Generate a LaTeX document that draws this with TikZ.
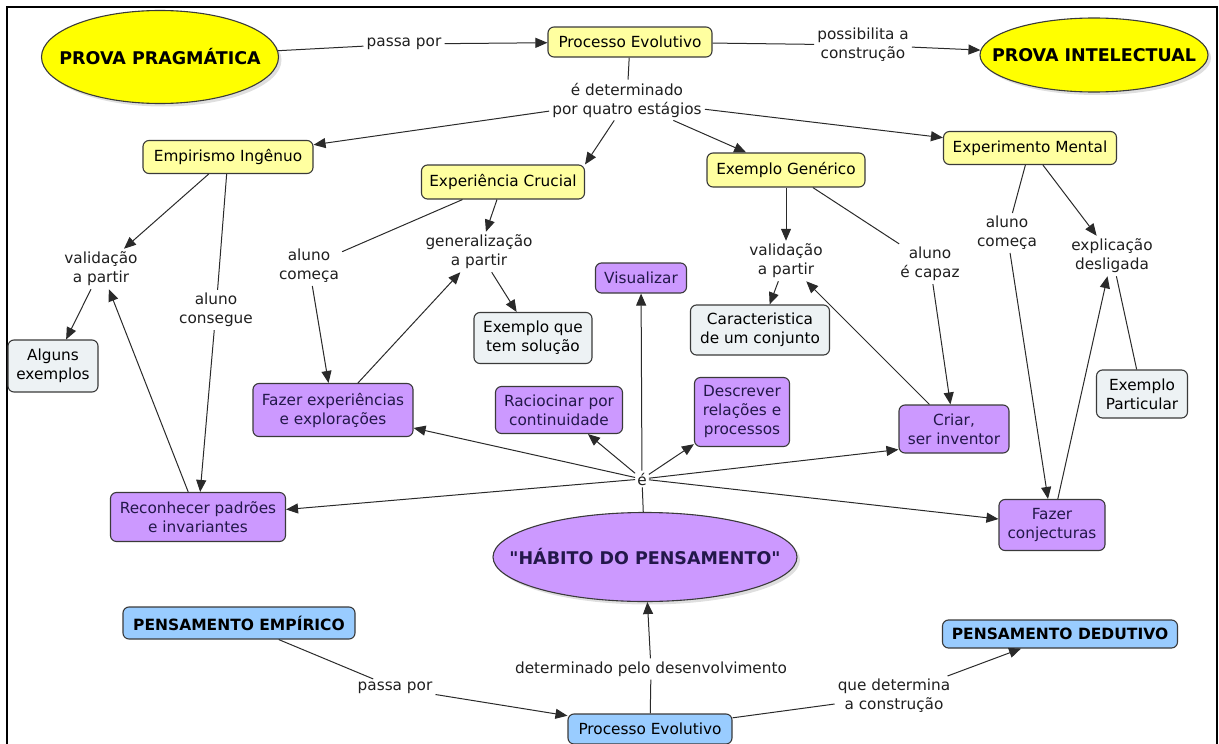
\documentclass[tikz,border=0pt]{standalone}
\usepackage{fontspec}
\setmainfont{DejaVu Sans}[Ligatures=TeXOff]
\usetikzlibrary{arrows.meta,shapes.geometric,shadows}
\definecolor{yel}{HTML}{FFFF00}
\definecolor{pyel}{HTML}{FFFFA0}
\definecolor{purp}{HTML}{CC99FF}
\definecolor{lblue}{HTML}{99CCFF}
\definecolor{grayb}{HTML}{EDF2F4}
\definecolor{edgec}{HTML}{3A3A3A}
\definecolor{ptext}{HTML}{23184A}
\definecolor{linec}{HTML}{2A2A2A}
\begin{document}
\begin{tikzpicture}[x=1pt,y=-1pt,
  normfont/.style={font=\fontsize{15.3}{19}\selectfont},
  base/.style={draw=edgec, line width=1.1pt, rounded corners=6pt, align=center, inner sep=0pt, normfont},
  ybox/.style={base, fill=pyel},
  gbox/.style={base, fill=grayb},
  pbox/.style={base, fill=purp, text=ptext},
  bbox/.style={base, fill=lblue, text=black, font=\bfseries\fontsize{15.5}{19}\selectfont},
  ell/.style={ellipse, draw=edgec, line width=1.1pt, inner sep=0pt,
    drop shadow={shadow xshift=3pt, shadow yshift=-3pt, opacity=0.25}},
  elltext/.style={font=\bfseries\fontsize{17.5}{21}\selectfont},
  lbl/.style={align=center, inner sep=3pt, normfont, text=black!88},
  conn/.style={draw=linec, line width=1pt},
  arr/.style={conn, -{Triangle[length=12pt,width=10pt]}},
]
\useasboundingbox (0,0) rectangle (1219,744);
\draw[line width=1.5pt] (7,744) -- (7,7) -- (1217,7) -- (1217,744);

% ellipses
\node[ell, fill=yel, minimum width=237, minimum height=93,
  label={[elltext]center:PROVA PRAGMÁTICA}] (pp) at (160,57) {};
\node[ell, fill=yel, minimum width=228, minimum height=74,
  label={[elltext]center:PROVA INTELECTUAL}] (pi) at (1094,55) {};
\node[ell, fill=purp, minimum width=304, minimum height=89,
  label={[elltext, text=ptext]center:"HÁBITO DO PENSAMENTO"}] (hab) at (645,557) {};

% yellow boxes
\node[ybox, minimum width=164, minimum height=30] (pe) at (630,42) {Processo Evolutivo};
\node[ybox, minimum width=170, minimum height=33] (emp) at (228,157) {Empirismo Ingênuo};
\node[ybox, minimum width=163, minimum height=34] (ec) at (503,182) {Experiência Crucial};
\node[ybox, minimum width=158, minimum height=34] (eg) at (786,170) {Exemplo Genérico};
\node[ybox, minimum width=173, minimum height=33] (em) at (1030,148) {Experimento Mental};

% grey boxes
\node[gbox, minimum width=90, minimum height=52] (alg) at (53,366) {Alguns\\exemplos};
\node[gbox, minimum width=118, minimum height=51] (eqs) at (533,338) {Exemplo que\\tem solução};
\node[gbox, minimum width=139, minimum height=50] (car) at (760,330) {Caracteristica\\de um conjunto};
\node[gbox, minimum width=91, minimum height=48] (epa) at (1142,394) {Exemplo\\Particular};

% purple boxes
\node[pbox, minimum width=91, minimum height=30] (vis) at (641,278) {Visualizar};
\node[pbox, minimum width=160, minimum height=53] (fee) at (333,410) {Fazer experiências\\e explorações};
\node[pbox, minimum width=127, minimum height=47] (rac) at (559,410) {Raciocinar por\\continuidade};
\node[pbox, minimum width=95, minimum height=69] (des) at (742,412) {Descrever\\relações e\\processos};
\node[pbox, minimum width=110, minimum height=48] (cri) at (954,429) {Criar,\\ser inventor};
\node[pbox, minimum width=175, minimum height=49] (rec) at (198,517) {Reconhecer padrões\\e invariantes};
\node[pbox, minimum width=106, minimum height=51] (fco) at (1052,525) {Fazer\\conjecturas};

% blue boxes
\node[bbox, minimum width=232, minimum height=32] (pem) at (239,623) {PENSAMENTO EMPÍRICO};
\node[bbox, minimum width=235, minimum height=28] (pde) at (1060,634) {PENSAMENTO DEDUTIVO};
\node[base, fill=lblue, minimum width=164, minimum height=30] (peb) at (650,729) {Processo Evolutivo};

% linking labels
\node[lbl] (l1) at (404,44) {passa por};
\node[lbl] (l2) at (863,45) {possibilita a\\construção};
\node[lbl] (l3) at (627,100) {é determinado\\por quatro estágios};
\node[lbl] (v1) at (101,269) {validação\\a partir};
\node[lbl] (ac1) at (216,310) {aluno\\consegue};
\node[lbl] (am1) at (309,266) {aluno\\começa};
\node[lbl] (gen) at (479,252) {generalização\\a partir};
\node[lbl] (v2) at (786,261) {validação\\a partir};
\node[lbl] (aec) at (930,264) {aluno\\é capaz};
\node[lbl] (am2) at (1007,233) {aluno\\começa};
\node[lbl] (exd) at (1112,256) {explicação\\desligada};
\node[lbl, inner sep=2pt] (e) at (642,479) {é};
\node[lbl] (det) at (651,669) {determinado pelo desenvolvimento};
\node[lbl] (l4) at (395,688) {passa por};
\node[lbl] (qdc) at (894,696) {que determina\\a construção};

% connectors top
\draw[conn] (pp) -- (l1);
\draw[arr] (l1) -- (pe);
\draw[conn] (pe) -- (l2);
\draw[arr] (l2) -- (pi);
\draw[conn] (pe) -- (l3);
\draw[arr] (l3) -- (emp);
\draw[arr] (l3.238) -- (ec.north east);
\draw[arr] (l3) -- (eg);
\draw[arr] (l3) -- (em);

% Empirismo
\draw[arr] (emp) -- (v1);
\draw[conn] (emp) -- (ac1);
\draw[arr] (ac1) -- (rec);
\draw[arr] (rec) -- (v1);
\draw[arr] (v1) -- (alg);

% Experiencia Crucial
\draw[conn] (ec) -- (am1);
\draw[arr] (am1) -- (fee);
\draw[arr] (ec) -- (gen);
\draw[arr] (fee) -- (gen);
\draw[arr] (gen) -- (eqs);

% Exemplo Generico
\draw[arr] (eg) -- (v2);
\draw[arr] (v2) -- (car);
\draw[conn] (eg) -- (aec);
\draw[arr] (aec) -- (cri);
\draw[arr] (cri) -- (v2);

% Experimento Mental
\draw[conn] (em) -- (am2);
\draw[arr] (am2) -- (fco);
\draw[arr] (em) -- (exd);
\draw[arr] (fco) -- (exd);
\draw[conn] (epa) -- (exd);

% hub
\draw[conn] (hab) -- (e);
\draw[arr] (e) -- (vis);
\draw[arr] (e) -- (rac);
\draw[arr] (e) -- (des);
\draw[arr] (e) -- (fee);
\draw[arr] (e) -- (rec);
\draw[arr] (e) -- ([yshift=4pt]cri.south west);
\draw[arr] (e) -- (fco);

% bottom
\draw[conn] (pem) -- (l4);
\draw[arr] (l4) -- (peb);
\draw[conn] (peb) -- (det);
\draw[arr] (det) -- (hab);
\draw[conn] (peb) -- (qdc);
\draw[arr] (qdc) -- (pde);
\end{tikzpicture}
\end{document}
